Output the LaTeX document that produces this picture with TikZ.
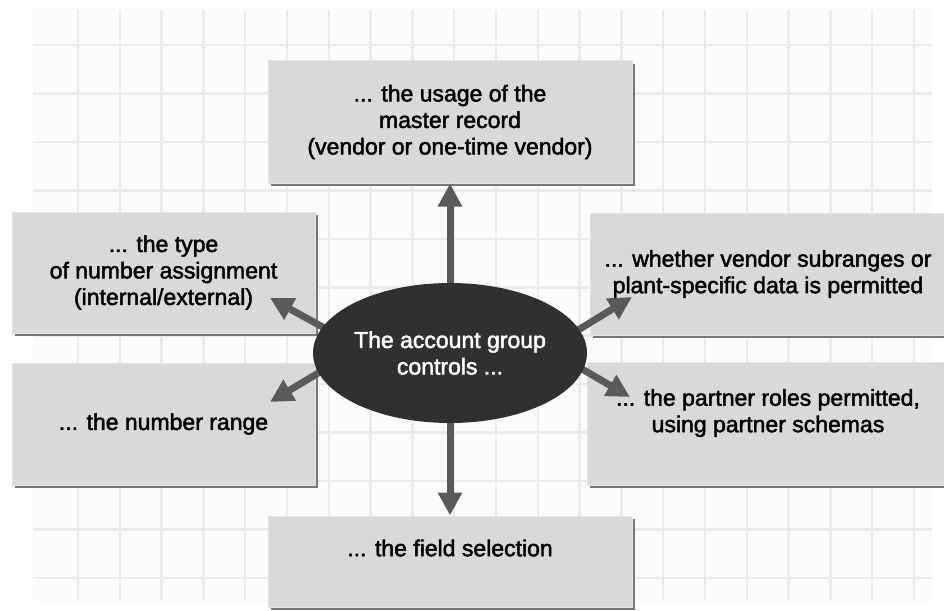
\documentclass[tikz,border=0pt]{standalone}
\usepackage{fontspec}
\setmainfont{Liberation Sans}
\newfontfamily\panelfont{Liberation Sans}[FakeBold=2]
\usetikzlibrary{arrows.meta,shapes.geometric,shadows}
\definecolor{gridbg}{HTML}{FCFCFC}
\definecolor{gridline}{HTML}{EBEBEB}
\definecolor{panel}{HTML}{D9D9D9}
\definecolor{paneledge}{HTML}{E4E4E4}
\definecolor{panelshade}{HTML}{787878}
\definecolor{arrowgray}{HTML}{5A5A5A}
\definecolor{hubfill}{HTML}{303030}
\pgfdeclarelayer{bg}
\pgfdeclarelayer{mid}
\pgfsetlayers{bg,mid,main}

\begin{document}
\begin{tikzpicture}[x=1pt,y=-1pt,
  txt/.style={font=\panelfont\fontsize{23}{26.5}\selectfont, align=center, text=black},
  panelbox/.style={rectangle, inner sep=0pt, fill=panel, draw=paneledge, line width=1pt,
    drop shadow={shadow xshift=3pt, shadow yshift=-3pt, fill=panelshade, opacity=1, shadow scale=1},
    txt},
  hub/.style={ellipse, inner sep=0pt, minimum width=274pt, minimum height=140pt,
    fill=hubfill, font=\panelfont\fontsize{23}{26.5}\selectfont, align=center, text=white},
  flow/.style={draw=arrowgray, line width=7pt, -{Triangle[length=23pt,width=23pt]}},
  gridrule/.style={draw=gridline, line width=2.5pt}]

\useasboundingbox (0,0) rectangle (944,610);
\clip (0,0) rectangle (944,610);

% central hub
\node[hub] (ell) at (450,353) {The account group\\controls ...};

\begin{pgfonlayer}{bg}
  % background grid
  \fill[gridbg] (33,7) rectangle (932,602);
  \foreach \k in {0,...,20}
    \draw[gridrule] ({78+41.8*\k},10) -- ({78+41.8*\k},600);
  \foreach \k in {0,...,11}
    \draw[gridrule] (33,{45+48.45*\k}) -- (932,{45+48.45*\k});

  % panels
  \node[panelbox, minimum width=364pt, minimum height=122pt] (top) at (450,122)
    {... the usage of the\\master record\\(vendor or one-time vendor)};
  \node[panelbox, minimum width=303pt, minimum height=121pt] (tl) at (163.5,272.5)
    {... the type\\of number assignment\\(internal/external)};
  \node[panelbox, minimum width=303pt, minimum height=122pt] (bl) at (163.5,424)
    {... the number range};
  \node[panelbox, minimum width=356pt, minimum height=122pt] (tr) at (768,274)
    {... whether vendor subranges or\\plant-specific data is permitted};
  \node[panelbox, minimum width=362pt, minimum height=123pt] (br) at (768,423.5) {};
  \node[txt] (brtext) at (768,413)
    {... the partner roles permitted,\\using partner schemas};
  \node[panelbox, minimum width=364pt, minimum height=91pt] (bot) at (450,561.5) {};
  \node[txt] (bottext) at (450,548) {... the field selection};
\end{pgfonlayer}

% connector ends
\coordinate (ulS) at (330,331);
\coordinate (ulT) at (270,298);
\coordinate (llS) at (330,366);
\coordinate (llT) at (270,402);
\coordinate (urS) at (570,335);
\coordinate (urT) at (632,297);
\coordinate (lrS) at (570,362);
\coordinate (lrT) at (630,397);

\begin{pgfonlayer}{mid}
  \draw[flow] (ell) -- (top);
  \draw[flow] (ell) -- (bot);
  \draw[flow] (ulS) -- (ulT);
  \draw[flow] (llS) -- (llT);
  \draw[flow] (urS) -- (urT);
  \draw[flow] (lrS) -- (lrT);
\end{pgfonlayer}
\end{tikzpicture}
\end{document}
